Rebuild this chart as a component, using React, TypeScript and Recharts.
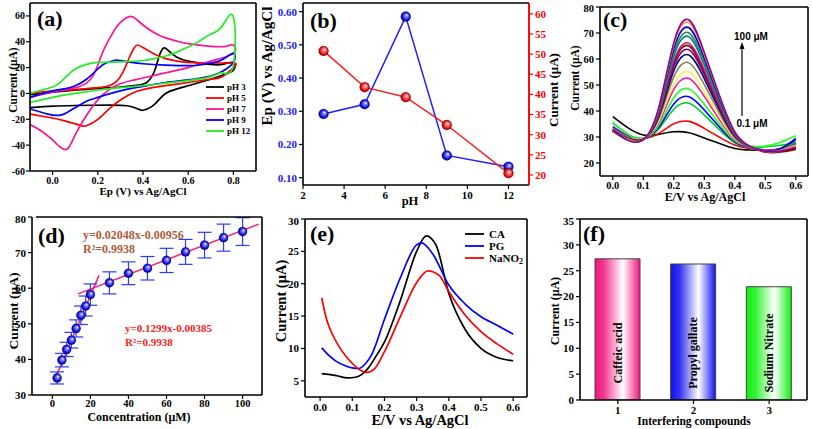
import {
  LineChart,
  Line,
  XAxis,
  YAxis,
  ComposedChart,
  Scatter,
  ErrorBar,
  BarChart,
  Bar,
  Cell,
  LabelList,
} from "recharts";

const SERIF = '"Liberation Serif", "Times New Roman", Times, serif';
const SANS = '"Liberation Sans", Arial, Helvetica, sans-serif';

// ---------- (a) cyclic voltammograms, [E (V), I (µA)] ----------
const CV_PH3 = [
  [-0.1, -1], [0, 1], [0.1, 2.5], [0.2, 4], [0.3, 5], [0.38, 6.5], [0.42, 9], [0.45, 17], [0.47, 28],
  [0.49, 35], [0.51, 33.5], [0.55, 28], [0.6, 25], [0.65, 23.5], [0.7, 22.5], [0.75, 22.5], [0.8, 24],
  [0.8, 18], [0.75, 14], [0.7, 11], [0.65, 8.5], [0.6, 6], [0.55, 3.5], [0.5, 0], [0.47, -5], [0.44, -10],
  [0.4, -13], [0.37, -11.5], [0.33, -9.5], [0.25, -9], [0.1, -9.3], [0, -9.8], [-0.1, -11],
];
const CV_PH5 = [
  [-0.1, 0], [0, 2], [0.1, 3], [0.2, 4.5], [0.25, 6], [0.28, 9], [0.31, 16], [0.34, 28], [0.36, 35],
  [0.375, 37.5], [0.4, 35.5], [0.45, 30.5], [0.5, 27], [0.55, 25], [0.6, 24], [0.7, 23.5], [0.8, 23.5],
  [0.8, 20], [0.75, 13], [0.7, 11], [0.6, 8.5], [0.5, 6], [0.4, 3], [0.35, 0], [0.3, -5], [0.25, -12],
  [0.2, -20], [0.15, -25], [0.12, -24.5], [0.05, -21], [0, -19], [-0.1, -16],
];
const CV_PH7 = [
  [-0.1, -3], [0, 1], [0.1, 4.5], [0.15, 8], [0.18, 14], [0.2, 22], [0.23, 35], [0.27, 48], [0.3, 55],
  [0.34, 59.5], [0.37, 57.5], [0.4, 53], [0.45, 47], [0.5, 43], [0.55, 40.5], [0.6, 38.5], [0.7, 36.5],
  [0.77, 36.5], [0.8, 37.5], [0.8, 31], [0.7, 25], [0.6, 20], [0.5, 16], [0.4, 12], [0.35, 10], [0.3, 7.5],
  [0.25, 3], [0.2, -5], [0.15, -17], [0.1, -32], [0.065, -43], [0.03, -41], [0, -36], [-0.05, -29], [-0.1, -24],
];
const CV_PH9 = [
  [-0.1, -3], [0, 2], [0.05, 3.5], [0.1, 6], [0.15, 11], [0.2, 19], [0.23, 23], [0.27, 25.5], [0.3, 25.5],
  [0.35, 24], [0.4, 23], [0.5, 22], [0.6, 21.5], [0.65, 22], [0.7, 23.5], [0.75, 26], [0.8, 31],
  [0.8, 24], [0.75, 17], [0.7, 13.5], [0.6, 10.5], [0.5, 8.5], [0.4, 5.5], [0.3, 2], [0.2, -3], [0.15, -6],
  [0.1, -11], [0.05, -16], [0.02, -17], [-0.02, -16], [-0.1, -12],
];
const CV_PH12 = [
  [-0.1, 0], [-0.05, 2.5], [0, 5], [0.03, 8], [0.06, 13], [0.1, 19], [0.15, 22.5], [0.2, 24], [0.3, 24.5],
  [0.4, 25.5], [0.45, 27], [0.5, 29], [0.55, 32], [0.6, 36], [0.65, 40.5], [0.7, 46], [0.75, 52], [0.8, 59],
  [0.8, 22], [0.75, 16], [0.7, 13], [0.6, 10], [0.5, 8], [0.4, 6], [0.3, 4.5], [0.2, 2.5], [0.1, 0],
  [0, -3], [-0.1, -7],
];
const CV_CURVES = [CV_PH3, CV_PH5, CV_PH7, CV_PH9, CV_PH12];
const CV_LABELS = ["pH 3", "pH 5", "pH 7", "pH 9", "pH 12"];
const CV_COLORS = ["#000000", "#ff0000", "#ff1493", "#0000ff", "#22ee22"];

// ---------- (b) peak potential / current vs pH ----------
const PH = [3, 5, 7, 9, 12];
const EP = [0.292, 0.321, 0.585, 0.167, 0.133];
const IPA = [50.8, 41.8, 39.3, 32.4, 20.4];

// ---------- (c) DPV, 0.1 – 100 µM ----------
const E_C = [0, 0.05, 0.1, 0.15, 0.2, 0.25, 0.3, 0.35, 0.4, 0.45, 0.5, 0.55, 0.6];
const DPV_CURVES = [
  [37.8, 33.5, 30.8, 31, 32, 31.6, 29.6, 27.5, 25.6, 25, 25, 25.4, 26.5],
  [33, 30.2, 29.4, 31.3, 35.1, 36, 33.3, 29.9, 26.9, 25.6, 25, 25.2, 26.8],
  [35.3, 31, 29.5, 33, 40.7, 43, 38.5, 32.7, 27.8, 26, 26.2, 26.8, 28],
  [34, 30.3, 29.2, 33.6, 42.7, 45.5, 40.4, 33.8, 28.1, 25.8, 24.8, 25.5, 29],
  [35.5, 31, 29.3, 34.4, 45.1, 48.5, 42.6, 35, 28.5, 26.5, 26.5, 28, 30.5],
  [33.5, 30, 29.2, 35.4, 48.3, 52.5, 45.6, 36.6, 29.1, 26, 25, 25.5, 27.5],
  [32.5, 29.8, 29.3, 36, 50.3, 55, 47.5, 37.7, 29.4, 26, 24.8, 25, 26.5],
  [33, 29.8, 29.2, 36.9, 53.1, 58.5, 50.1, 39.1, 29.8, 26.1, 24.6, 24.8, 26],
  [32.5, 29.5, 29.1, 37.6, 55.5, 61.5, 52.4, 40.3, 30.2, 26.2, 24.5, 24.5, 25.5],
  [32, 29.3, 29, 38.1, 57.1, 63.5, 53.9, 41.1, 30.5, 26.2, 24.4, 24.5, 26],
  [32.5, 29.4, 29.1, 38.5, 58.3, 65, 55, 41.8, 30.7, 26.2, 24.2, 24.2, 25.2],
  [33, 29.3, 29, 38.8, 59.1, 66, 55.8, 42.2, 30.8, 26.2, 24.3, 24.6, 27],
  [32, 29, 29, 39.4, 61.1, 68.5, 57.6, 43.2, 31.1, 26.3, 24.5, 24.8, 27.5],
  [33, 29.2, 29, 39.8, 62.3, 70, 58.8, 43.8, 31.3, 26.3, 24.6, 25, 28],
  [32.5, 28.8, 28.9, 40.3, 63.9, 72, 60.3, 44.6, 31.6, 26.4, 24.8, 25.6, 29.5],
  [32, 28.9, 29, 40.8, 65.5, 74, 61.8, 45.5, 31.9, 26.4, 24.5, 24.8, 26.8],
  [32.5, 28.7, 29, 41, 66.3, 75, 62.5, 45.9, 32, 26.4, 24.5, 24.6, 26],
];
const DPV_COLORS = [
  "#000000", "#ff0000", "#00cc22", "#0000ff", "#22ff22", "#ff1493", "#ffee55", "#808060", "#000080",
  "#800080", "#8b0000", "#c71585", "#008080", "#2e8b57", "#0000cd", "#ff9966", "#8b008b",
];

// ---------- (d) calibration ----------
const D_CONC = [2.5, 5, 7.5, 10, 12.5, 15, 17.5, 20, 30, 40, 50, 60, 70, 80, 90, 100];
const D_CURR = [34.8, 39.8, 42.8, 45.4, 48.7, 52.4, 55, 58.2, 61.5, 64.2, 65.6, 67.8, 70.2, 72.1, 74.2, 75.9];
const D_ERR = [1.7, 1.9, 2, 2.2, 2.4, 2.6, 2.8, 3, 3.1, 3.2, 3.3, 3.4, 3.5, 3.6, 3.8, 3.9];
const FIT_LOW_X = [1.2, 24.5];
const FIT_LOW_Y = [34.2, 63.6];
const FIT_HIGH_X = [13.5, 108.5];
const FIT_HIGH_Y = [58.4, 78];

// ---------- (e) interferents DPV, [E (V), I (µA)] ----------
const DPV_CA = [
  [0.005, 6.1], [0.05, 5.8], [0.085, 5.45], [0.11, 5.55], [0.13, 6], [0.15, 7], [0.17, 8.5], [0.2, 11],
  [0.25, 17.5], [0.3, 25], [0.33, 27.4], [0.36, 26], [0.4, 18.5], [0.45, 13], [0.5, 10], [0.55, 8.6], [0.6, 8.1],
];
const DPV_PG = [
  [0.005, 10.1], [0.03, 8.8], [0.05, 8], [0.08, 7.3], [0.1, 7], [0.12, 6.9], [0.14, 7.6], [0.16, 9], [0.2, 14.5],
  [0.25, 21], [0.3, 26], [0.315, 26.3], [0.35, 24.6], [0.4, 19.8], [0.45, 16.9], [0.5, 14.9], [0.55, 13.6], [0.6, 12.2],
];
const DPV_NANO2 = [
  [0.005, 17.8], [0.02, 14.5], [0.04, 12], [0.06, 10.2], [0.08, 8.8], [0.1, 7.7], [0.12, 6.8], [0.145, 6.3],
  [0.17, 6.9], [0.2, 9.5], [0.25, 15], [0.3, 20.2], [0.335, 22], [0.37, 21.3], [0.4, 18.8], [0.45, 15.2],
  [0.5, 12.6], [0.55, 10.7], [0.6, 9.1],
];
const E_SERIES = [DPV_CA, DPV_PG, DPV_NANO2];
const E_LABELS = ["CA", "PG", "NaNO2"];
const E_COLORS = ["#000000", "#0000ff", "#ff0000"];

// ---------- (f) interfering compounds ----------
const INTERF_NAMES = ["Caffeic acid", "Propyl gallate", "Sodium Nitrate"];
const INTERF_X = ["1", "2", "3"];
const INTERF_I = [27.3, 26.3, 21.9];
const INTERF_GRADS = ["gPink", "gBlue", "gGreen"];

// ---------- layout ----------
type Box = { l: number; t: number; r: number; b: number };
const BOX_A: Box = { l: 30, t: 3, r: 256, b: 171 };
const BOX_B: Box = { l: 303, t: 3, r: 529, b: 185 };
const BOX_C: Box = { l: 600, t: 7, r: 808, b: 176 };
const BOX_D: Box = { l: 36, t: 217, r: 262, b: 395 };
const BOX_E: Box = { l: 305, t: 219, r: 527, b: 397 };
const BOX_F: Box = { l: 580, t: 219, r: 807, b: 400 };

const YW = 40;
const XH = 30;
const MT = 4;

function geom(box: Box, right = 4) {
  return {
    style: { position: "absolute" as const, left: box.l - YW, top: box.t - MT },
    width: YW + box.r - box.l + right,
    height: MT + box.b - box.t + XH,
  };
}

const AX = { stroke: "#000", strokeWidth: 1.6 };
const TL = { stroke: "#000", strokeWidth: 1.2 };
const tick = (size: number, fill = "#000") => ({ fontSize: size, fontWeight: 700, fontFamily: SERIF, fill });
const pts = (arr: number[][]) => arr.map(([x, y]) => ({ x, y }));

function sphere(grad: string, r: number) {
  return (p: any) => (
    <circle key={`s${p.index}`} cx={p.cx} cy={p.cy} r={r} fill={`url(#${grad})`} stroke="#00000055" strokeWidth={0.4} />
  );
}

function PanelA() {
  const g = geom(BOX_A);
  return (
    <div style={g.style}>
      <LineChart width={g.width} height={g.height} margin={{ top: MT, right: 4, bottom: 0, left: 0 }}>
        <XAxis type="number" dataKey="x" domain={[-0.1, 0.9]} ticks={[0, 0.2, 0.4, 0.6, 0.8]} allowDataOverflow
          tickFormatter={(v: number) => v.toFixed(1)} axisLine={AX} tickLine={TL} tickSize={4} tick={tick(10)} height={XH} />
        <YAxis type="number" domain={[-60, 70]} ticks={[-60, -40, -20, 0, 20, 40, 60]} allowDataOverflow
          axisLine={AX} tickLine={TL} tickSize={4} tickMargin={1} tick={tick(10)} width={YW} />
        {CV_CURVES.map((c, i) => (
          <Line key={CV_LABELS[i]} data={pts(c)} dataKey="y" type="natural" stroke={CV_COLORS[i]} strokeWidth={1.7}
            dot={false} activeDot={false} isAnimationActive={false} />
        ))}
      </LineChart>
    </div>
  );
}

function PanelB() {
  const g = geom(BOX_B, 35);
  const rows = PH.map((p, i) => ({ ph: p, ep: EP[i], ip: IPA[i] }));
  return (
    <div style={g.style}>
      <LineChart width={g.width} height={g.height} data={rows} margin={{ top: MT, right: 0, bottom: 0, left: 0 }}>
        <XAxis type="number" dataKey="ph" domain={[2, 13]} ticks={[2, 4, 6, 8, 10, 12]} allowDataOverflow
          axisLine={AX} tickLine={TL} tickSize={4} tick={tick(11)} height={XH} />
        <YAxis yAxisId="l" type="number" domain={[0.078, 0.626]} allowDataOverflow
          ticks={[0.1, 0.15, 0.2, 0.25, 0.3, 0.35, 0.4, 0.45, 0.5, 0.55, 0.6]} tickFormatter={(v: number) => v.toFixed(2)}
          axisLine={AX} tickLine={TL} tickSize={4} tick={tick(11, "#1a1aff")} width={YW} />
        <YAxis yAxisId="r" orientation="right" type="number" domain={[17.5, 62.7]} allowDataOverflow
          ticks={[20, 25, 30, 35, 40, 45, 50, 55, 60]} axisLine={{ stroke: "#ff0000", strokeWidth: 1.6 }}
          tickLine={{ stroke: "#ff0000", strokeWidth: 1.2 }} tickSize={4} tick={tick(11, "#ff0000")} width={35} />
        <Line yAxisId="l" dataKey="ep" type="linear" stroke="#1f1fff" strokeWidth={1.5}
          dot={sphere("sphBlue", 5)} activeDot={false} isAnimationActive={false} />
        <Line yAxisId="r" dataKey="ip" type="linear" stroke="#ff1f1f" strokeWidth={1.5}
          dot={sphere("sphRed", 5)} activeDot={false} isAnimationActive={false} />
      </LineChart>
    </div>
  );
}

function PanelC() {
  const g = geom(BOX_C);
  const rows = E_C.map((x, j) => {
    const row: Record<string, number> = { x };
    DPV_CURVES.forEach((c, i) => (row[`c${i}`] = c[j]));
    return row;
  });
  return (
    <div style={g.style}>
      <LineChart width={g.width} height={g.height} data={rows} margin={{ top: MT, right: 4, bottom: 0, left: 0 }}>
        <XAxis type="number" dataKey="x" domain={[-0.042, 0.64]} ticks={[0, 0.1, 0.2, 0.3, 0.4, 0.5, 0.6]} allowDataOverflow
          tickFormatter={(v: number) => v.toFixed(1)} axisLine={AX} tickLine={TL} tickSize={4} tick={tick(10.5)} height={XH} />
        <YAxis type="number" domain={[15, 80]} ticks={[20, 30, 40, 50, 60, 70, 80]} allowDataOverflow
          axisLine={AX} tickLine={TL} tickSize={4} tick={tick(10.5)} width={YW} />
        {DPV_CURVES.map((_, i) => (
          <Line key={i} dataKey={`c${i}`} type="natural" stroke={DPV_COLORS[i]} strokeWidth={1.6}
            dot={false} activeDot={false} isAnimationActive={false} />
        ))}
      </LineChart>
    </div>
  );
}

function PanelD() {
  const g = geom(BOX_D);
  const points = D_CONC.map((x, i) => ({ x, y: D_CURR[i], err: D_ERR[i] }));
  const low = FIT_LOW_X.map((x, i) => ({ x, y: FIT_LOW_Y[i] }));
  const high = FIT_HIGH_X.map((x, i) => ({ x, y: FIT_HIGH_Y[i] }));
  return (
    <div style={g.style}>
      <ComposedChart width={g.width} height={g.height} margin={{ top: MT, right: 4, bottom: 0, left: 0 }}>
        <XAxis type="number" dataKey="x" domain={[-10.7, 110.2]} ticks={[0, 20, 40, 60, 80, 100]} allowDataOverflow
          axisLine={AX} tickLine={TL} tickSize={4} tickMargin={1} tick={tick(10.5)} height={XH} />
        <YAxis type="number" dataKey="y" domain={[30, 80]} ticks={[30, 40, 50, 60, 70, 80]} allowDataOverflow
          axisLine={AX} tickLine={TL} tickSize={4} tick={tick(11)} width={YW - 4} />
        <Line data={low} dataKey="y" type="linear" stroke="#ff1a6e" strokeWidth={1.5} dot={false} activeDot={false} isAnimationActive={false} />
        <Line data={high} dataKey="y" type="linear" stroke="#ff1a6e" strokeWidth={1.5} dot={false} activeDot={false} isAnimationActive={false} />
        <Scatter data={points} dataKey="y" shape={sphere("sphBlue", 4.6)} isAnimationActive={false}>
          <ErrorBar dataKey="err" direction="y" width={7} stroke="#2a3cff" strokeWidth={1.2} />
        </Scatter>
      </ComposedChart>
    </div>
  );
}

function PanelE() {
  const g = geom(BOX_E);
  return (
    <div style={g.style}>
      <LineChart width={g.width} height={g.height} margin={{ top: MT, right: 4, bottom: 0, left: 0 }}>
        <XAxis type="number" dataKey="x" domain={[-0.047, 0.643]} ticks={[0, 0.1, 0.2, 0.3, 0.4, 0.5, 0.6]} allowDataOverflow
          tickFormatter={(v: number) => v.toFixed(1)} axisLine={AX} tickLine={TL} tickSize={4} tick={tick(11)} height={XH} />
        <YAxis type="number" domain={[2.5, 30]} ticks={[5, 10, 15, 20, 25, 30]} allowDataOverflow
          axisLine={AX} tickLine={TL} tickSize={4} tick={tick(11)} width={YW} />
        {E_SERIES.map((s, i) => (
          <Line key={E_LABELS[i]} data={pts(s)} dataKey="y" type="monotone" stroke={E_COLORS[i]} strokeWidth={1.7}
            dot={false} activeDot={false} isAnimationActive={false} />
        ))}
      </LineChart>
    </div>
  );
}

function BarName(props: any) {
  const { x, y, width, height, value } = props;
  const cx = x + width / 2;
  const cy = y + height - 47;
  return (
    <text x={cx} y={cy} transform={`rotate(-90 ${cx} ${cy})`} textAnchor="middle" dominantBaseline="central"
      fontFamily={SERIF} fontWeight={700} fontSize={12} fill="#000">
      {value}
    </text>
  );
}

function PanelF() {
  const g = geom(BOX_F);
  const rows = INTERF_X.map((x, i) => ({ x, v: INTERF_I[i], name: INTERF_NAMES[i] }));
  return (
    <div style={g.style}>
      <BarChart width={g.width} height={g.height} data={rows} margin={{ top: MT, right: 4, bottom: 0, left: 0 }}>
        <XAxis dataKey="x" axisLine={AX} tickLine={TL} tickSize={4} tick={tick(11)} height={XH} />
        <YAxis type="number" domain={[0, 35]} ticks={[0, 5, 10, 15, 20, 25, 30, 35]} allowDataOverflow
          axisLine={AX} tickLine={TL} tickSize={4} tick={tick(11)} width={YW} />
        <Bar dataKey="v" barSize={45} isAnimationActive={false} stroke="#444" strokeWidth={1}>
          {rows.map((_, i) => (
            <Cell key={i} fill={`url(#${INTERF_GRADS[i]})`} />
          ))}
          <LabelList dataKey="name" content={BarName} />
        </Bar>
      </BarChart>
    </div>
  );
}

function Txt({ x, y, size, children, anchor = "middle", weight = 700, color = "#000", rot = false, family = SERIF }: any) {
  return (
    <text x={x} y={y} fontSize={size} fontWeight={weight} fill={color} fontFamily={family} textAnchor={anchor}
      dominantBaseline="central" transform={rot ? `rotate(-90 ${x} ${y})` : undefined}>
      {children}
    </text>
  );
}

function frameLines(b: Box, rightColor = "#000") {
  return (
    <g key={`${b.l}-${b.t}`}>
      <line x1={b.l} y1={b.t} x2={b.r} y2={b.t} stroke="#000" strokeWidth={1.6} />
      <line x1={b.r} y1={b.t} x2={b.r} y2={b.b} stroke={rightColor} strokeWidth={1.6} />
    </g>
  );
}

function Overlay() {
  return (
    <svg width={813} height={429} style={{ position: "absolute", left: 0, top: 0, pointerEvents: "none" }}>
      {[BOX_A, BOX_C, BOX_D, BOX_E, BOX_F].map((b) => frameLines(b))}
      {frameLines(BOX_B, "#ff0000")}

      {/* panel letters */}
      <Txt x={37} y={18} size={22} anchor="start">(a)</Txt>
      <Txt x={310} y={20} size={22} anchor="start">(b)</Txt>
      <Txt x={603} y={19} size={22} anchor="start">(c)</Txt>
      <Txt x={38} y={235} size={22} anchor="start">(d)</Txt>
      <Txt x={310} y={233} size={22} anchor="start">(e)</Txt>
      <Txt x={583} y={233} size={22} anchor="start">(f)</Txt>

      {/* axis titles */}
      <Txt x={13} y={80} size={11.5} rot>Current (μA)</Txt>
      <Txt x={143} y={191} size={11}>Ep (V) vs Ag/AgCl</Txt>
      <Txt x={267} y={66} size={15} rot>Ep (V) vs Ag/AgCl</Txt>
      <Txt x={410} y={201} size={12.5}>pH</Txt>
      <Txt x={553} y={90} size={13} rot>Current (μA)</Txt>
      <Txt x={575} y={78} size={11.5} rot>Current (μA)</Txt>
      <Txt x={705} y={197} size={12}>E/V vs Ag/AgCl</Txt>
      <Txt x={13} y={311} size={13.5} rot>Current (μA)</Txt>
      <Txt x={139} y={417} size={12}>Concentration (μM)</Txt>
      <Txt x={281} y={301} size={14.5} rot>Current (μA)</Txt>
      <Txt x={420} y={420} size={14.5}>E/V vs Ag/AgCl</Txt>
      <Txt x={555} y={311} size={12} rot>Current (μA)</Txt>
      <Txt x={694} y={421} size={11.5}>Interfering compounds</Txt>

      {/* (a) legend */}
      {CV_LABELS.map((lab, i) => (
        <g key={lab}>
          <line x1={206} x2={224} y1={87 + i * 11} y2={87 + i * 11} stroke={CV_COLORS[i]} strokeWidth={1.8} />
          <Txt x={227} y={87 + i * 11} size={9} anchor="start">{lab}</Txt>
        </g>
      ))}

      {/* (c) concentration arrow */}
      <line x1={742} y1={116} x2={742} y2={48} stroke="#000" strokeWidth={1.2} />
      <path d="M742,42 L739.5,49 L744.5,49 Z" fill="#000" />
      <Txt x={751} y={36} size={10} family={SANS}>100 μM</Txt>
      <Txt x={752} y={123} size={10} family={SANS}>0.1 μM</Txt>

      {/* (d) regression equations */}
      <Txt x={83} y={235} size={12} anchor="start" color="#b05a3a">y=0.02048x-0.00956</Txt>
      <Txt x={83} y={249} size={12} anchor="start" color="#b05a3a">R²=0.9938</Txt>
      <Txt x={125} y={328} size={11} anchor="start" color="#ff2020">y=0.1299x-0.00385</Txt>
      <Txt x={125} y={342} size={11} anchor="start" color="#ff2020">R²=0.9938</Txt>

      {/* (e) legend */}
      {E_LABELS.map((lab, i) => (
        <g key={lab}>
          <line x1={465} x2={484} y1={234 + i * 12} y2={234 + i * 12} stroke={E_COLORS[i]} strokeWidth={1.8} />
          <Txt x={489} y={234 + i * 12} size={11} anchor="start">
            {lab === "NaNO2" ? (
              <>
                NaNO<tspan fontSize={8} dy={3}>2</tspan>
              </>
            ) : (
              lab
            )}
          </Txt>
        </g>
      ))}
    </svg>
  );
}

export default function App() {
  return (
    <div style={{ position: "absolute", left: 0, top: 0, width: 813, height: 429, background: "#fff", overflow: "hidden" }}>
      <svg width={0} height={0} style={{ position: "absolute" }}>
        <defs>
          <radialGradient id="sphBlue" cx="50%" cy="50%" r="50%" fx="62%" fy="35%">
            <stop offset="0" stopColor="#ffffff" />
            <stop offset="0.3" stopColor="#8080ff" />
            <stop offset="0.75" stopColor="#1010e0" />
            <stop offset="1" stopColor="#00007a" />
          </radialGradient>
          <radialGradient id="sphRed" cx="50%" cy="50%" r="50%" fx="62%" fy="35%">
            <stop offset="0" stopColor="#ffffff" />
            <stop offset="0.3" stopColor="#ff8080" />
            <stop offset="0.75" stopColor="#e81010" />
            <stop offset="1" stopColor="#7a0000" />
          </radialGradient>
          <linearGradient id="gPink" x1="0" x2="1" y1="0" y2="0">
            <stop offset="0" stopColor="#f0157d" />
            <stop offset="0.2" stopColor="#f23a92" />
            <stop offset="0.62" stopColor="#ffffff" />
            <stop offset="1" stopColor="#f0157d" />
          </linearGradient>
          <linearGradient id="gBlue" x1="0" x2="1" y1="0" y2="0">
            <stop offset="0" stopColor="#1010f0" />
            <stop offset="0.2" stopColor="#3434f2" />
            <stop offset="0.62" stopColor="#ffffff" />
            <stop offset="1" stopColor="#1010f0" />
          </linearGradient>
          <linearGradient id="gGreen" x1="0" x2="1" y1="0" y2="0">
            <stop offset="0" stopColor="#10f010" />
            <stop offset="0.2" stopColor="#34f234" />
            <stop offset="0.62" stopColor="#ffffff" />
            <stop offset="1" stopColor="#10f010" />
          </linearGradient>
        </defs>
      </svg>
      <PanelA />
      <PanelB />
      <PanelC />
      <PanelD />
      <PanelE />
      <PanelF />
      <Overlay />
    </div>
  );
}
